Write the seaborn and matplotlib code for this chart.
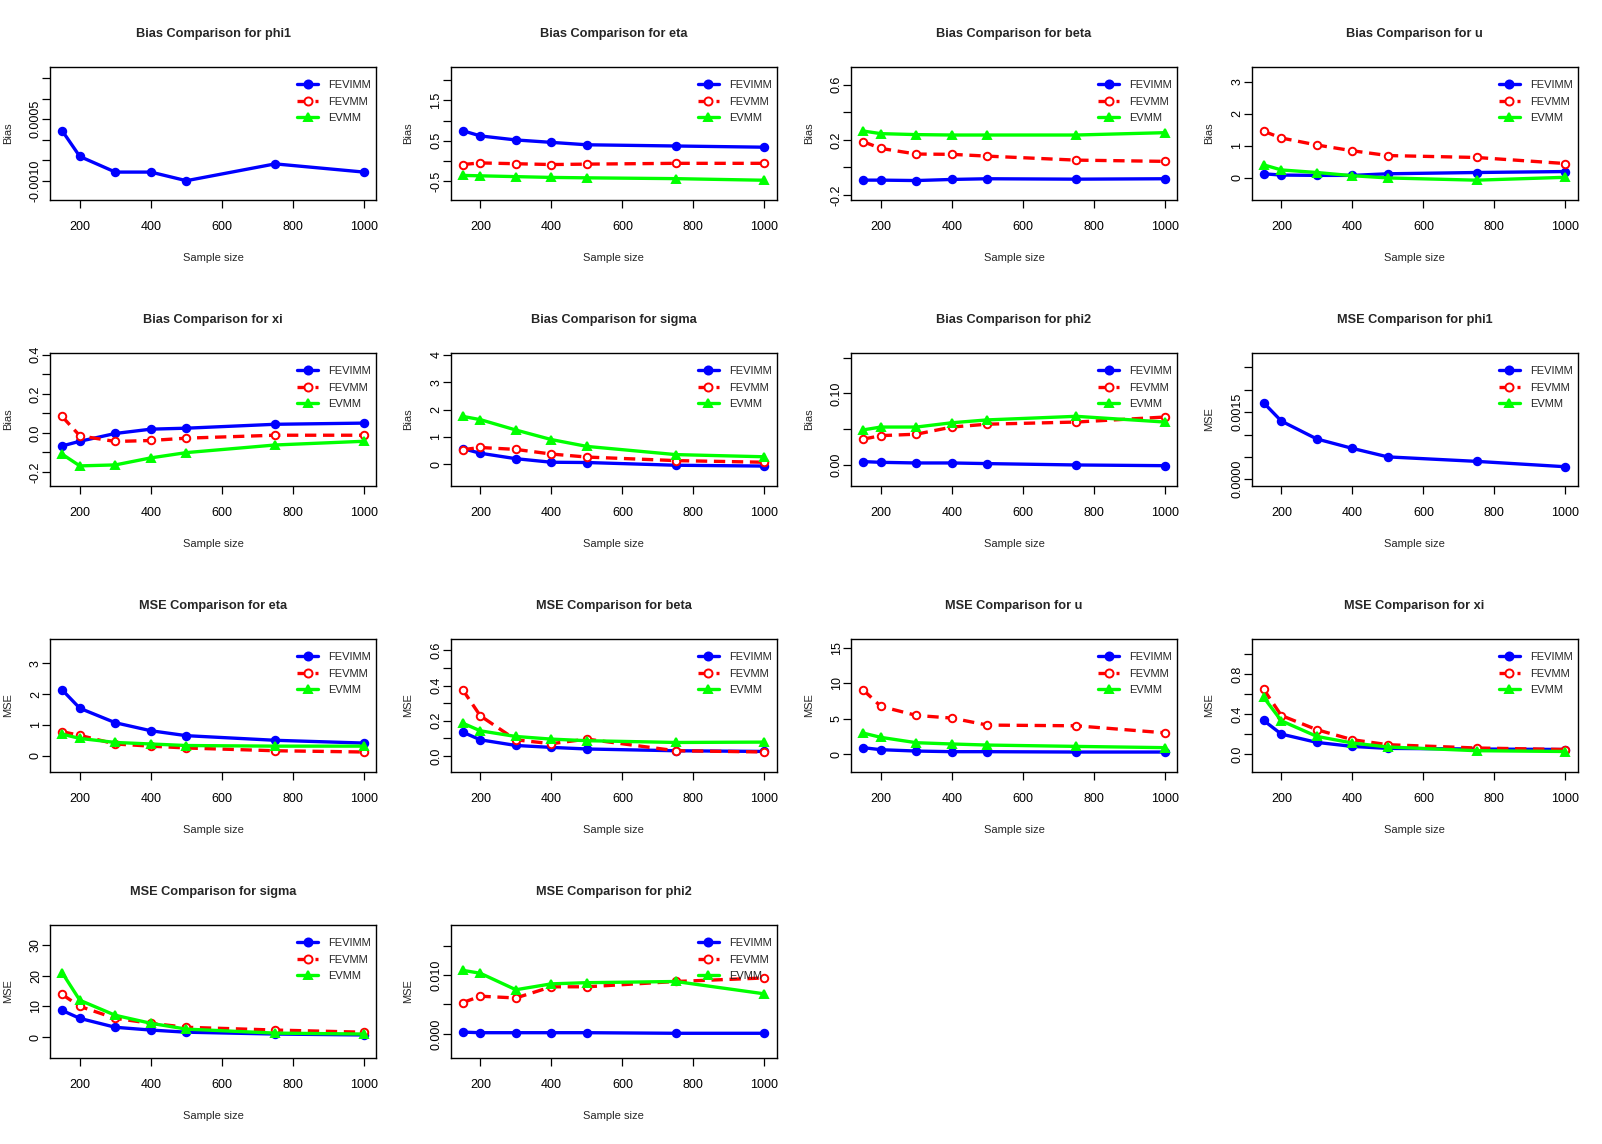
import numpy as np
import pandas as pd
import matplotlib
matplotlib.use("Agg")
import matplotlib.pyplot as plt
from matplotlib.lines import Line2D
import seaborn as sns

# sample sizes of the simulation study
sample_size = [150, 200, 300, 400, 500, 750, 1000]
methods = ["FEVIMM", "FEVMM", "EVMM"]

# values (None = series not shown)
bias_phi1 = {"FEVIMM": [0.00022, -0.00041, -0.00079, -0.00079, -0.0010, -0.00059, -0.00079],
             "FEVMM": None, "EVMM": None}
bias_eta = {"FEVIMM": [0.75, 0.62, 0.52, 0.46, 0.40, 0.37, 0.34],
            "FEVMM": [-0.09, -0.05, -0.07, -0.09, -0.08, -0.06, -0.06],
            "EVMM": [-0.36, -0.37, -0.39, -0.41, -0.42, -0.44, -0.48]}
bias_beta = {"FEVIMM": [-0.092, -0.092, -0.095, -0.087, -0.082, -0.085, -0.082],
             "FEVMM": [0.187, 0.138, 0.097, 0.095, 0.082, 0.053, 0.044],
             "EVMM": [0.264, 0.245, 0.238, 0.235, 0.235, 0.235, 0.252]}
bias_u = {"FEVIMM": [0.13, 0.09, 0.08, 0.08, 0.13, 0.17, 0.20],
          "FEVMM": [1.46, 1.25, 1.03, 0.85, 0.70, 0.64, 0.45],
          "EVMM": [0.41, 0.25, 0.17, 0.07, 0.0, -0.07, 0.02]}
bias_xi = {"FEVIMM": [-0.067, -0.043, -0.003, 0.019, 0.024, 0.044, 0.050],
           "FEVMM": [0.084, -0.015, -0.044, -0.039, -0.027, -0.012, -0.012],
           "EVMM": [-0.109, -0.169, -0.164, -0.128, -0.101, -0.062, -0.043]}
bias_sigma = {"FEVIMM": [0.57, 0.40, 0.20, 0.07, 0.06, -0.04, -0.07],
              "FEVMM": [0.53, 0.61, 0.54, 0.37, 0.26, 0.13, 0.07],
              "EVMM": [1.75, 1.63, 1.25, 0.90, 0.65, 0.35, 0.27]}
bias_phi2 = {"FEVIMM": [0.0047, 0.0037, 0.0028, 0.0028, 0.0019, 0.0, -0.001],
             "FEVMM": [0.036, 0.041, 0.043, 0.053, 0.057, 0.060, 0.067],
             "EVMM": [0.049, 0.053, 0.053, 0.059, 0.063, 0.068, 0.060]}
mse_phi1 = {"FEVIMM": [0.00171, 0.00130, 0.00090, 0.00069, 0.00050, 0.00040, 0.00028],
            "FEVMM": None, "EVMM": None}
mse_eta = {"FEVIMM": [2.14, 1.54, 1.07, 0.81, 0.65, 0.50, 0.41],
           "FEVMM": [0.78, 0.66, 0.38, 0.31, 0.25, 0.16, 0.12],
           "EVMM": [0.70, 0.56, 0.43, 0.38, 0.33, 0.31, 0.31]}
mse_beta = {"FEVIMM": [0.136, 0.092, 0.060, 0.049, 0.040, 0.030, 0.026],
            "FEVMM": [0.377, 0.228, 0.092, 0.070, 0.096, 0.030, 0.023],
            "EVMM": [0.187, 0.143, 0.111, 0.096, 0.087, 0.077, 0.079]}
mse_u = {"FEVIMM": [0.90, 0.61, 0.42, 0.33, 0.33, 0.28, 0.28],
         "FEVMM": [9.1, 6.75, 5.47, 5.09, 4.10, 4.0, 3.0],
         "EVMM": [2.97, 2.36, 1.60, 1.42, 1.27, 1.08, 0.90]}
mse_xi = {"FEVIMM": [0.336, 0.199, 0.116, 0.076, 0.056, 0.050, 0.045],
          "FEVMM": [0.648, 0.385, 0.243, 0.143, 0.093, 0.060, 0.045],
          "EVMM": [0.568, 0.332, 0.176, 0.110, 0.070, 0.033, 0.025]}
mse_sigma = {"FEVIMM": [8.7, 6.1, 3.2, 2.3, 1.6, 1.0, 0.7],
             "FEVMM": [13.9, 10.0, 6.1, 4.5, 3.2, 2.3, 1.6],
             "EVMM": [21.0, 12.0, 7.1, 4.5, 2.6, 1.3, 1.0]}
mse_phi2 = {"FEVIMM": [0.0003, 0.0002, 0.0002, 0.0002, 0.0002, 0.0001, 0.0001],
            "FEVMM": [0.0053, 0.0064, 0.0061, 0.0080, 0.0080, 0.0089, 0.0095],
            "EVMM": [0.0108, 0.0103, 0.0075, 0.0085, 0.0087, 0.0089, 0.0068]}

# (title, ylabel, data, ylim, tick step)
panels = [
    ("Bias Comparison for phi1", "Bias", bias_phi1, (-0.00147, 0.00177), 0.0005),
    ("Bias Comparison for eta", "Bias", bias_eta, (-0.97, 2.33), 0.5),
    ("Bias Comparison for beta", "Bias", bias_beta, (-0.236, 0.728), 0.2),
    ("Bias Comparison for u", "Bias", bias_u, (-0.69, 3.47), 1),
    ("Bias Comparison for xi", "Bias", bias_xi, (-0.272, 0.409), 0.1),
    ("Bias Comparison for sigma", "Bias", bias_sigma, (-0.80, 4.07), 1),
    ("Bias Comparison for phi2", "Bias", bias_phi2, (-0.0294, 0.1565), 0.05),
    ("MSE Comparison for phi1", "MSE", mse_phi1, (-0.00015, 0.00282), 0.0005),
    ("MSE Comparison for eta", "MSE", mse_eta, (-0.53, 3.79), 1),
    ("MSE Comparison for beta", "MSE", mse_beta, (-0.0906, 0.664), 0.1),
    ("MSE Comparison for u", "MSE", mse_u, (-2.55, 16.3), 5),
    ("MSE Comparison for xi", "MSE", mse_xi, (-0.18, 1.15), 0.2),
    ("MSE Comparison for sigma", "MSE", mse_sigma, (-6.8, 36.5), 10),
    ("MSE Comparison for phi2", "MSE", mse_phi2, (-0.0041, 0.0185), 0.005),
]

LW = 2.4
MS = 5.4
styles = {
    "FEVIMM": dict(color="#0000FF", marker="o", linestyle="-", markerfacecolor="#0000FF"),
    "FEVMM": dict(color="#FF0000", marker="o", linestyle=(0, (3.4, 2.0)), markerfacecolor="white"),
    "EVMM": dict(color="#00FF00", marker="^", linestyle="-", markerfacecolor="#00FF00"),
}

sns.set_style("ticks")
plt.rcParams["font.family"] = ["Liberation Sans", "DejaVu Sans"]
plt.rcParams["axes.unicode_minus"] = False


def n_decimals(step):
    d = 0
    while abs(round(step, d) - step) > 1e-12:
        d += 1
    return d


def r_labels(ticks, fmt, lo, hi, axis_px):
    """Mimic R dropping y labels that would overlap (parallel labels)."""
    char_w = {".": 3.5, "-": 4.2}
    labels, last_end = [], -1e9
    for t in ticks:
        s = fmt.format(t)
        if s.startswith("-") and float(s) == 0:
            s = s[1:]
        w = sum(char_w.get(c, 7.0) for c in s)
        pos = (t - lo) / (hi - lo) * axis_px
        if pos - w / 2 >= last_end + 14:
            labels.append(s)
            last_end = pos + w / 2
        else:
            labels.append("")
    return labels


fig, axes = plt.subplots(4, 4, figsize=(16.02, 11.44), dpi=100)
fig.subplots_adjust(left=50 / 1602, right=1577.5 / 1602, top=1 - 67 / 1144,
                    bottom=1 - 1058 / 1144, wspace=74.5 / 326, hspace=153 / 133)
axes = axes.ravel()

handles = [Line2D([], [], lw=LW, markersize=MS + 0.4, markeredgecolor=styles[m]["color"],
                  markeredgewidth=1.4, **styles[m]) for m in methods]

for ax, (title, ylab, data, ylim, step) in zip(axes, panels):
    for m in methods:
        vals = data[m]
        if vals is None:
            continue
        df = pd.DataFrame({"n": sample_size, "value": vals})
        sns.lineplot(data=df, x="n", y="value", ax=ax, errorbar=None, legend=False,
                     lw=LW, markersize=MS, markeredgecolor=styles[m]["color"],
                     markeredgewidth=1.4, **styles[m])

    ax.set_xlim(116, 1034)
    ax.set_ylim(*ylim)
    ax.set_xticks([200, 400, 600, 800, 1000])
    lo, hi = ylim
    ticks = np.arange(np.ceil(lo / step - 1e-9) * step, hi + 1e-12, step)
    ticks = np.round(ticks, 10)
    fmt = "{:." + str(n_decimals(step)) + "f}"
    axis_px = ax.get_position().height * 1144
    ax.set_yticks(ticks)
    ax.set_yticklabels(r_labels(ticks, fmt, lo, hi, axis_px), rotation=90, va="center")

    ax.tick_params(axis="both", direction="out", length=5.8, width=0.9,
                   colors="black", labelsize=9)
    ax.tick_params(axis="y", pad=0)
    ax.tick_params(axis="x", pad=9)
    for sp in ax.spines.values():
        sp.set_visible(True)
        sp.set_linewidth(1.0)
        sp.set_color("black")

    ax.set_title(title, fontsize=9.2, fontweight="bold", y=1 + 33 / 133, va="center", pad=0)
    ax.set_xlabel("Sample size", fontsize=8)
    ax.xaxis.set_label_coords(0.5, -58 / 133)
    ax.xaxis.label.set_va("center")
    ax.set_ylabel(ylab, fontsize=8)
    ax.yaxis.set_label_coords(-42 / 326, 0.5)
    ax.yaxis.label.set_va("center")

    ax.legend(handles=handles, labels=methods, loc="upper right",
              bbox_to_anchor=(1.0, 1 - 8 / 133), frameon=False, fontsize=8,
              handlelength=1.9, handletextpad=0.9, labelspacing=0.6,
              borderaxespad=0, borderpad=0.45)

for ax in axes[len(panels):]:
    ax.set_visible(False)

fig.savefig("out.png", dpi=100, facecolor="white")
